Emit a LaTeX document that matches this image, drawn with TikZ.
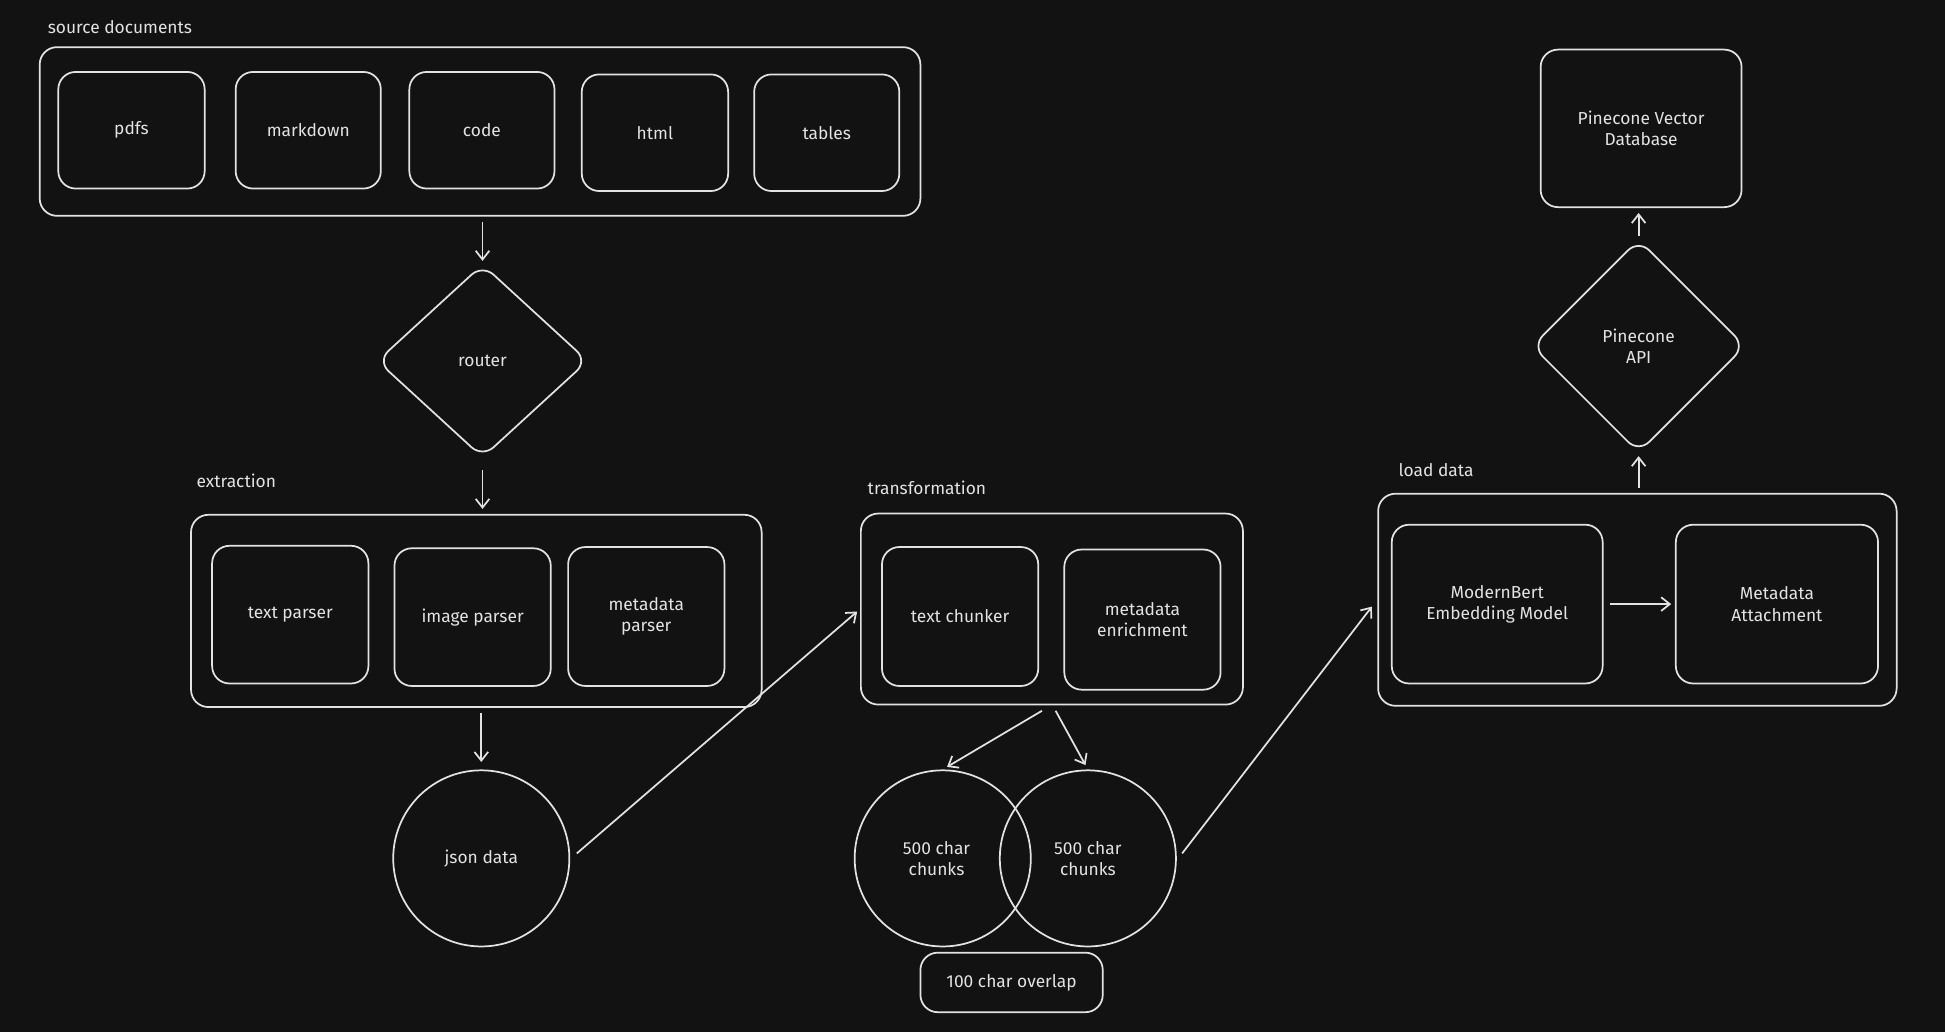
\documentclass[tikz,border=0pt]{standalone}
\usepackage{fontspec}
\setmainfont{Fira Sans}
\usetikzlibrary{shapes.geometric,arrows.meta}
\definecolor{bg}{HTML}{121212}
\definecolor{fg}{HTML}{E2E2E2}
\begin{document}
\begin{tikzpicture}[x=1pt,y=-1pt,
  every node/.style={text=fg,font=\fontsize{14}{17}\selectfont},
  box/.style={draw=fg,line width=1.4pt,rounded corners=14pt,align=center,inner sep=0},
  dia/.style={draw=fg,line width=1.4pt,diamond,rounded corners=12pt,align=center,inner sep=0},
  circ/.style={draw=fg,line width=1.4pt,circle,minimum size=142pt,align=center,inner sep=0},
  lbl/.style={anchor=west,font=\fontsize{14}{17}\selectfont},
  arr/.style={draw=fg,line width=1.4pt,-{Straight Barb[length=7pt,width=11pt]}}]
\fill[bg] (0,0) rectangle (1568,832);
\useasboundingbox (0,0) rectangle (1568,832);
\newcommand\bx[6]{\node[box,minimum width=#4-#2,minimum height=#5-#3] (#1) at ({(#2+#4)/2},{(#3+#5)/2}) {#6};}
% source
\node[lbl] (srcl) at (35,22) {source documents};
\bx{src}{32}{38}{742}{174}{}
\bx{pdfs}{47}{58}{165}{152}{pdfs}
\bx{md}{190}{58}{307}{152}{markdown}
\bx{code}{330}{58}{447}{152}{code}
\bx{html}{469}{60}{587}{154}{html}
\bx{tables}{608}{60}{725}{154}{tables}
\node[dia,minimum width=170pt,minimum height=156pt] (router) at (389,291) {router};
% extraction
\node[lbl] (exl) at (155,388) {extraction};
\bx{ex}{154}{415}{614}{570}{}
\bx{tp}{171}{440}{297}{551}{text parser}
\bx{ip}{318}{442}{444}{553}{image parser}
\bx{mp}{458}{441}{584}{553}{metadata\\parser}
\node[circ] (json) at (388,692) {json data};
% transformation
\node[lbl] (trl) at (696,393) {transformation};
\bx{tr}{694}{414}{1002}{568}{}
\bx{tc}{711}{441}{837}{553}{text chunker}
\bx{me}{858}{443}{984}{556}{metadata\\enrichment}
\node[circ] (c1) at (760,692) {\hspace*{-10pt}500 char\\\hspace*{-10pt}chunks};
\node[circ] (c2) at (877,692) {500 char\\chunks};
\bx{ov}{742}{768}{889}{816}{100 char overlap}
% load
\node[lbl] (ldl) at (1124,379) {load data};
\bx{ld}{1111}{398}{1529}{569}{}
\bx{mb}{1122}{423}{1292}{551}{ModernBert\\Embedding Model}
\bx{ma}{1351}{423}{1514}{551}{Metadata\\Attachment}
\node[dia,minimum width=172pt,minimum height=172pt] (api) at (1321,279) {Pinecone\\API};
\bx{db}{1242}{40}{1404}{167}{Pinecone Vector\\Database}
% connectors
\coordinate (a1) at (465,688); \coordinate (a2) at (691,493);
\coordinate (b1) at (840,573); \coordinate (b2) at (851,573);
\coordinate (d1) at (953,688); \coordinate (d2) at (1106,489);
\draw[arr,shorten <=4pt,shorten >=2pt] (src.south -| router) -- (router.north);
\draw[arr,shorten <=9pt,shorten >=4pt] (router.south) -- (ex.north -| router);
\draw[arr,shorten <=4pt,shorten >=6pt] (ex.south -| json) -- (json.north);
\draw[arr] (a1) -- (a2);
\draw[arr,shorten >=4pt] (b1) -- (c1.north);
\draw[arr,shorten >=4pt] (b2) -- (c2.north);
\draw[arr] (d1) -- (d2);
\draw[arr,shorten <=5pt,shorten >=3pt] (mb.east) -- (ma.west);
\draw[arr,shorten <=4pt,shorten >=2pt] (ld.north -| api) -- (api.south);
\draw[arr,shorten <=2pt,shorten >=4pt] (api.north) -- (db.south -| api);
\end{tikzpicture}
\end{document}
